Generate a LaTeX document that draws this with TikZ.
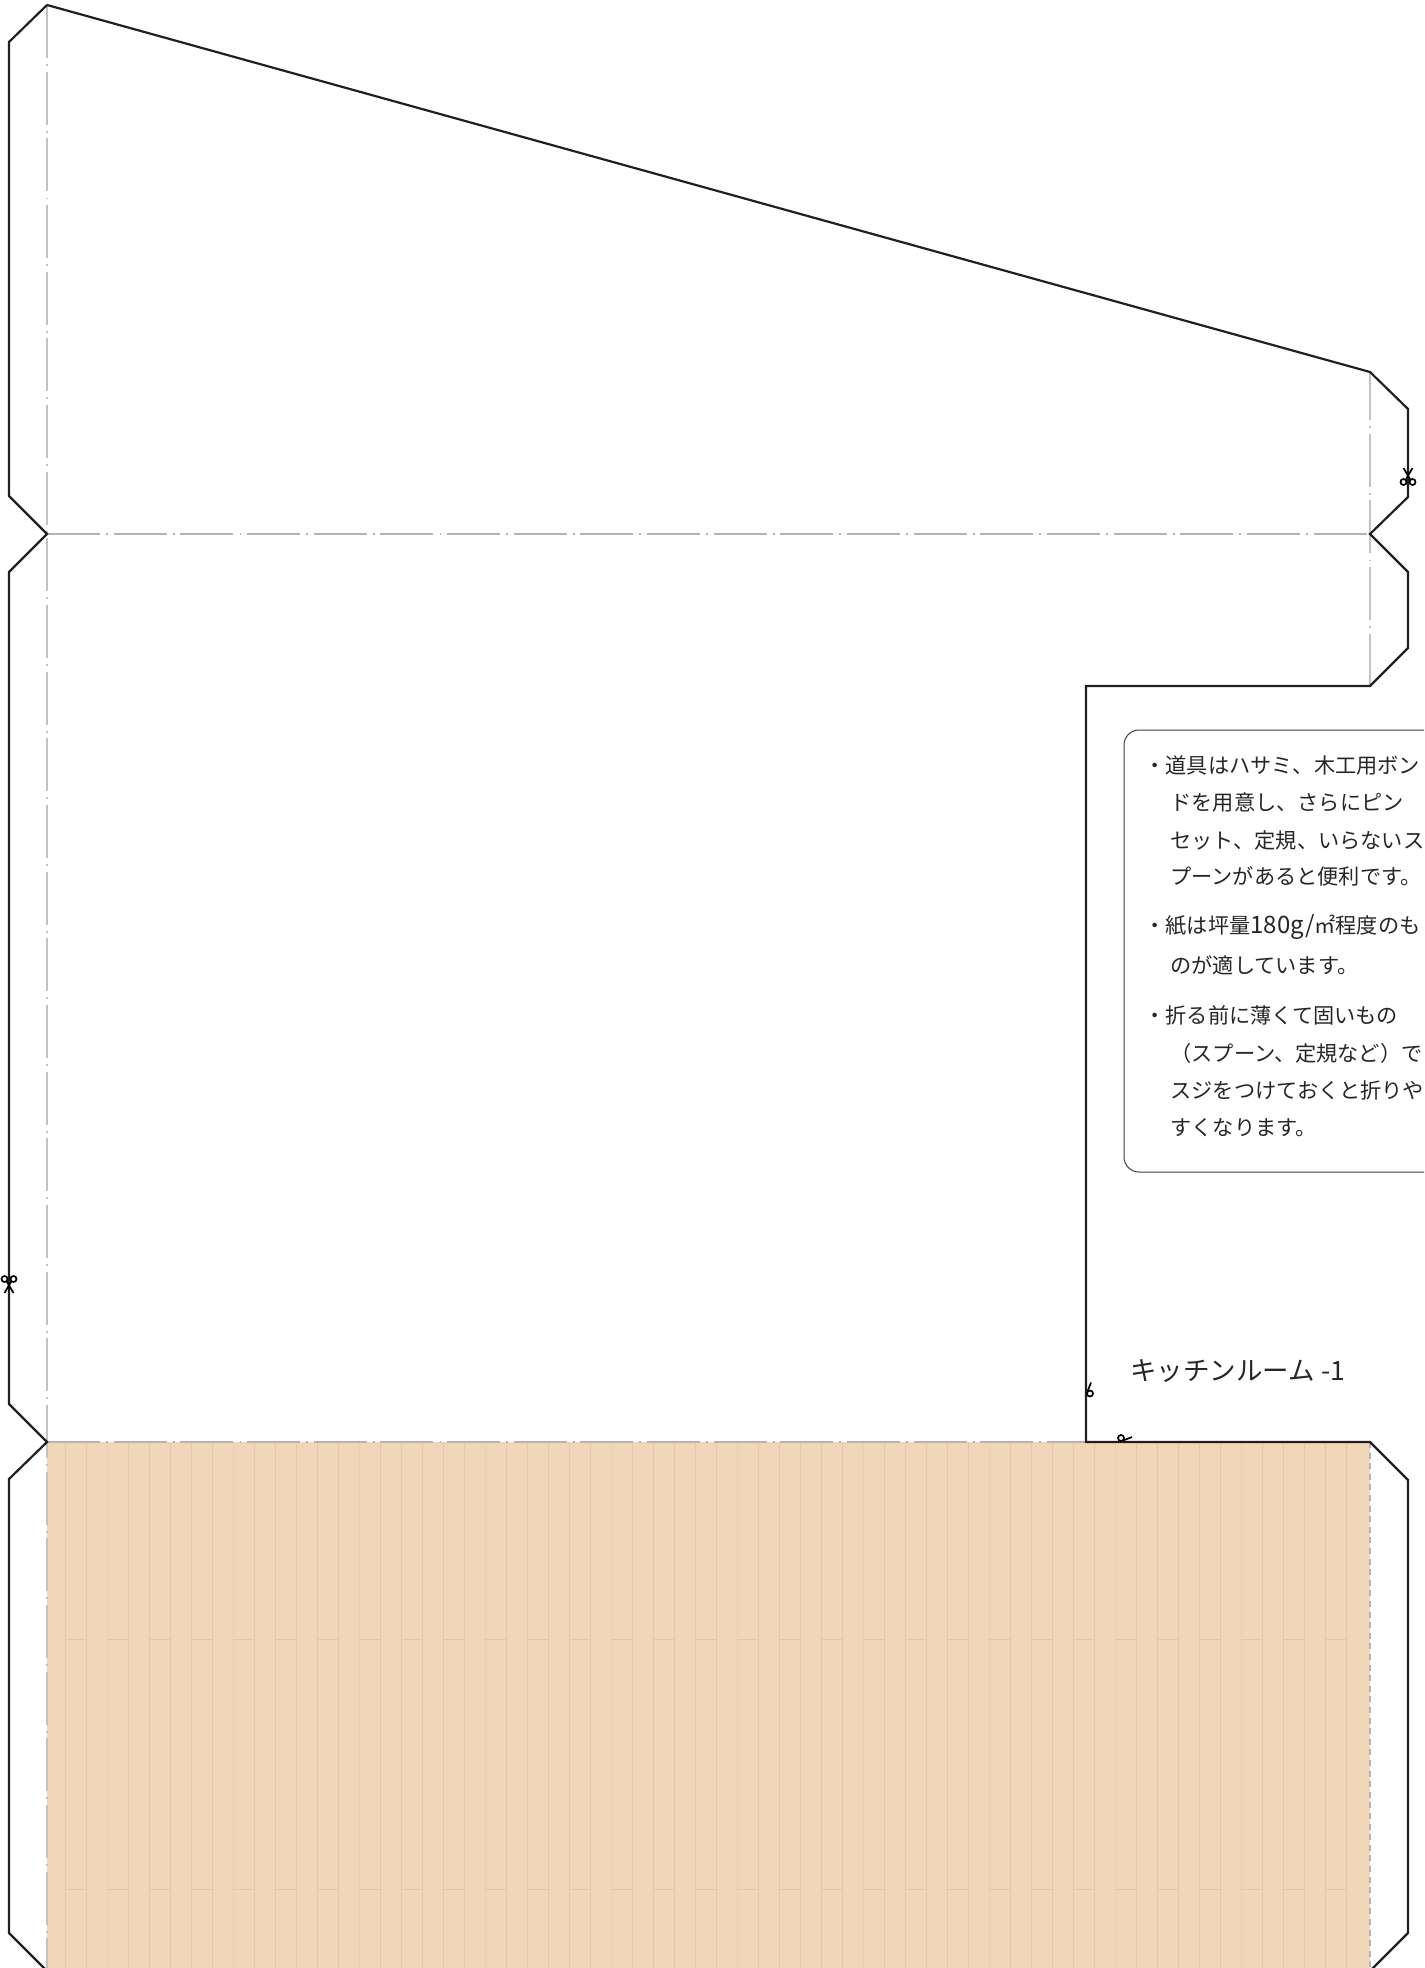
\documentclass[tikz,border=0pt]{standalone}
\usepackage{fontspec}
\setmainfont{Noto Sans CJK JP}
\definecolor{woodfill}{HTML}{F1D6B9}
\definecolor{woodline}{HTML}{E5C6A5}
\definecolor{woodfaint}{HTML}{EBCFB0}
\definecolor{foldgray}{HTML}{C2C2C2}
\definecolor{foldhoriz}{HTML}{B4B4B4}
\definecolor{cutblack}{HTML}{231F20}
\newcommand{\numtxt}[1]{{\fontsize{12pt}{14pt}\selectfont #1}}
\tikzset{
	cut/.style={cutblack, line width=1.1pt, line join=miter},
	fold/.style={foldgray, line width=0.7pt, dash pattern=on 26.5pt off 3.1pt on 0.9pt off 2.83pt},
	cutmark/.pic={
		\draw[black, line width=0.85pt] (-4.5,-9) -- (2.5,3) (4.5,-9) -- (-2.5,3);
		\draw[black, line width=0.85pt] (-4.5,5) circle[radius=3] (4.5,5) circle[radius=3];},
	halfmark/.pic={
		\draw[black, line width=0.85pt] (5,-6) -- (1.5,3);
		\draw[black, line width=0.85pt] (4,5) circle[radius=3];},
	txt/.style={font=\fontsize{10.6pt}{14pt}\selectfont, text=black!85, anchor=west, inner sep=0pt},
}
\begin{document}
\begin{tikzpicture}[x=0.5pt, y=-0.5pt]
	\useasboundingbox (0,0) rectangle (1424,1968);
	\clip (0,0) rectangle (1424,1968);
	\fill[woodfill] (47,1442) rectangle (1370,1968);
	\foreach \k in {0,...,61}{
		\pgfmathtruncatemacro{\six}{mod(\k,6)}
		\ifnum\six=2
			\draw[woodfaint, line width=0.5pt] ({65+21*\k},1442) -- ({65+21*\k},1968);
		\else
			\draw[woodline, line width=0.5pt] ({65+21*\k},1442) -- ({65+21*\k},1968);
		\fi}
	\foreach \k in {0,2,...,60}{
		\draw[woodline, line width=0.5pt] ({65+21*\k},1639) -- ++(21,0);
		\draw[woodline, line width=0.5pt] ({65+21*\k},1889) -- ++(21,0);}
	\draw[fold] (47,5) -- (47,1968);
	\draw[fold, foldhoriz] (47,534) -- (1370,534);
	\draw[fold, foldhoriz] (47,1442) -- (1086,1442);
	\draw[fold, dash phase=2.5pt] (1370,372) -- (1370,686);
	\draw[foldhoriz, line width=0.7pt, dash pattern=on 3pt off 2.3pt] (1370,1442) -- (1370,1968);
	\draw[cut] (47,5) -- (1370,372) -- (1408,409) -- (1408,497) -- (1370,534) -- (1408,572) -- (1408,648) -- (1370,686)
		-- (1086,686) -- (1086,1442) -- (1370,1442) -- (1408,1480) -- (1408,1933) -- (1370,1971);
	\draw[cut] (47,5) -- (9,42) -- (9,496) -- (47,534) -- (9,572) -- (9,1404) -- (47,1442) -- (9,1479) -- (9,1933) -- (45,1969);
	\pic at (1408,477) {cutmark};
	\pic[rotate=180] at (9,1284) {cutmark};
	\pic at (1086,1388.5) {halfmark};
	\pic[rotate=90, yscale=-1] at (1126,1442) {halfmark};
	\draw[black!75, line width=0.5pt] (1430,730) -- (1139,730) arc[start angle=90, end angle=180, x radius=15, y radius=-15]
		-- (1124,1157) arc[start angle=180, end angle=270, x radius=15, y radius=-15] -- (1430,1172);
	\foreach \nm/\xx/\yy/\txtline in {
		a/1144/765/{・道具はハサミ、木工用ボン},
		b/1170/802/{ドを用意し、さらにピン},
		c/1170/840/{セット、定規、いらないス},
		d/1170/876/{プーンがあると便利です。},
		e/1144/927/{・紙は坪量\numtxt{180g/}㎡程度のも},
		f/1170/965/{のが適しています。},
		g/1144/1015/{・折る前に薄くて固いもの},
		h/1170/1053/{（スプーン、定規など）で},
		i/1170/1090/{スジをつけておくと折りや},
		j/1170/1128/{すくなります。}}{
		\node[txt] (note\nm) at (\xx,\yy) {\txtline};}
	\node[txt, font=\fontsize{13.25pt}{16pt}\selectfont] (title) at (1130,1371) {キッチンルーム -1};
\end{tikzpicture}
\end{document}
